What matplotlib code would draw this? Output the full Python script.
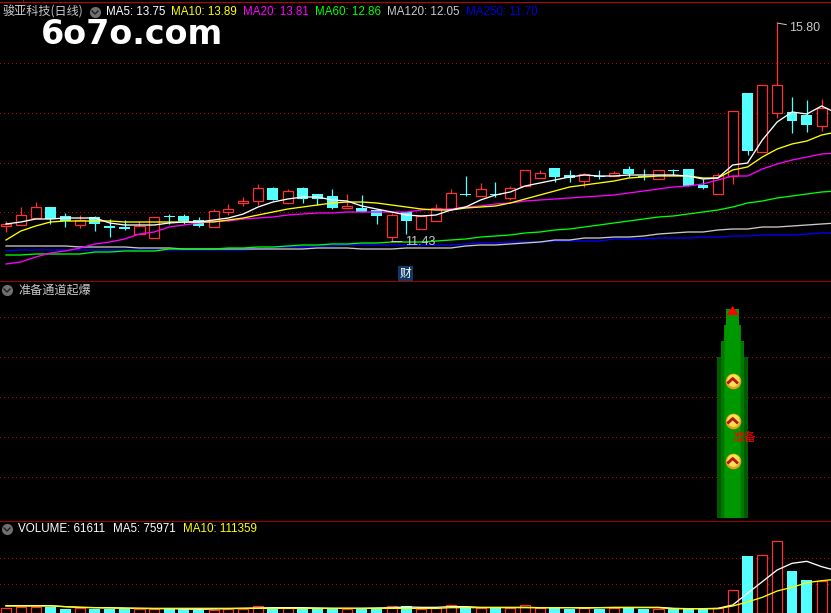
"""Daily candlestick screen with indicator and volume panels."""

import matplotlib

matplotlib.use("Agg")
import matplotlib.pyplot as plt
import numpy as np

highs = [11.84, 12.12, 12.22, 12.12, 12.00, 11.96, 11.94, 11.88, 11.86, 11.84, 11.92, 11.98, 11.98, 11.92, 12.08, 12.18, 12.32, 12.58, 12.52,
         12.48, 12.52, 12.38, 12.48, 12.38, 12.36, 12.06, 12.00, 12.02, 11.94, 12.18, 12.48, 12.74, 12.60, 12.62, 12.54, 12.86, 12.86, 12.90,
         12.86, 12.80, 12.86, 12.84, 12.94, 12.88, 12.86, 12.88, 12.88, 12.68, 12.80, 14.04, 14.40, 14.56, 15.80, 14.32, 14.26, 14.28, 14.16]
body_tops = [11.78, 11.96, 12.12, 12.12, 11.94, 11.86, 11.92, 11.74, 11.72, 11.74, 11.92, 11.94, 11.94, 11.86, 12.04, 12.08, 12.24, 12.50, 12.50,
             12.44, 12.50, 12.38, 12.34, 12.14, 12.10, 12.06, 11.96, 12.02, 11.94, 12.10, 12.40, 12.38, 12.48, 12.38, 12.50, 12.86, 12.80, 12.90,
             12.76, 12.78, 12.74, 12.80, 12.88, 12.74, 12.86, 12.86, 12.88, 12.56, 12.76, 14.04, 14.40, 14.56, 14.56, 14.02, 13.96, 14.10, 13.64]
body_bots = [11.74, 11.76, 11.90, 11.88, 11.84, 11.76, 11.78, 11.70, 11.68, 11.58, 11.50, 11.92, 11.84, 11.74, 11.72, 12.02, 12.20, 12.24, 12.26,
             12.20, 12.28, 12.28, 12.10, 12.10, 12.02, 11.94, 11.52, 11.84, 11.68, 11.84, 12.08, 12.36, 12.34, 12.36, 12.30, 12.54, 12.70, 12.72,
             12.70, 12.64, 12.72, 12.74, 12.78, 12.72, 12.68, 12.84, 12.54, 12.50, 12.38, 12.74, 13.24, 13.22, 14.00, 13.84, 13.76, 13.74, 13.54]
lows = [11.62, 11.76, 11.90, 11.78, 11.72, 11.70, 11.64, 11.52, 11.66, 11.58, 11.50, 11.78, 11.78, 11.72, 11.72, 11.96, 12.14, 12.16, 12.26,
        12.20, 12.20, 12.16, 12.08, 12.10, 12.02, 11.78, 11.43, 11.58, 11.68, 11.84, 12.08, 12.34, 12.34, 12.32, 12.26, 12.54, 12.70, 12.62,
        12.62, 12.52, 12.68, 12.74, 12.72, 12.66, 12.68, 12.76, 12.54, 12.48, 12.38, 12.58, 13.16, 13.22, 13.90, 13.60, 13.62, 13.64, 13.46]
is_up = [1, 1, 1, 0, 0, 1, 0, 0, 0, 1, 1, 0, 0, 0, 1, 1, 1, 1, 0,
         1, 0, 0, 0, 1, 0, 0, 1, 0, 1, 1, 1, 0, 1, 0, 1, 1, 1, 0,
         0, 1, 0, 1, 0, 0, 1, 0, 0, 0, 1, 1, 0, 1, 1, 0, 0, 1, 0]

ma5 = [11.78, 11.82, 11.88, 11.88, 11.90, 11.90, 11.90, 11.80, 11.76, 11.76, 11.76, 11.80, 11.82, 11.82, 11.86, 11.90, 11.98, 12.12, 12.22,
       12.28, 12.32, 12.32, 12.26, 12.24, 12.14, 12.08, 12.02, 11.96, 11.94, 11.96, 12.06, 12.12, 12.26, 12.36, 12.42, 12.54, 12.60, 12.66,
       12.72, 12.76, 12.74, 12.74, 12.76, 12.76, 12.76, 12.76, 12.74, 12.68, 12.70, 12.96, 13.00, 13.46, 13.82, 14.02, 13.98, 14.14, 14.00]
ma10 = [11.46, 11.64, 11.74, 11.82, 11.84, 11.84, 11.84, 11.84, 11.82, 11.82, 11.82, 11.82, 11.82, 11.82, 11.82, 11.86, 11.90, 11.96, 12.02,
        12.08, 12.12, 12.16, 12.20, 12.22, 12.22, 12.20, 12.16, 12.12, 12.08, 12.06, 12.06, 12.10, 12.12, 12.14, 12.20, 12.28, 12.36, 12.44,
        12.52, 12.56, 12.60, 12.64, 12.70, 12.72, 12.74, 12.74, 12.74, 12.70, 12.70, 12.86, 12.92, 13.12, 13.28, 13.38, 13.44, 13.56, 13.62]
ma20 = [10.98, 11.02, 11.12, 11.20, 11.24, 11.30, 11.38, 11.42, 11.48, 11.58, 11.62, 11.72, 11.76, 11.80, 11.84, 11.84, 11.88, 11.90, 11.92,
        11.96, 11.98, 12.00, 12.00, 12.02, 12.02, 12.02, 12.02, 12.02, 12.06, 12.08, 12.08, 12.12, 12.14, 12.18, 12.20, 12.24, 12.26, 12.28,
        12.30, 12.32, 12.34, 12.36, 12.40, 12.44, 12.48, 12.52, 12.54, 12.58, 12.66, 12.74, 12.74, 12.88, 12.98, 13.06, 13.12, 13.18, 13.20]
ma60 = [11.16, 11.16, 11.18, 11.18, 11.18, 11.18, 11.22, 11.22, 11.24, 11.24, 11.24, 11.28, 11.28, 11.28, 11.28, 11.30, 11.30, 11.32, 11.32,
        11.34, 11.36, 11.36, 11.38, 11.38, 11.40, 11.40, 11.42, 11.42, 11.42, 11.44, 11.46, 11.48, 11.52, 11.54, 11.56, 11.60, 11.62, 11.66,
        11.68, 11.72, 11.76, 11.80, 11.84, 11.88, 11.92, 11.94, 11.98, 12.02, 12.06, 12.12, 12.20, 12.24, 12.30, 12.34, 12.38, 12.42, 12.44]
ma120 = [11.34, 11.34, 11.34, 11.34, 11.34, 11.32, 11.32, 11.32, 11.32, 11.30, 11.30, 11.30, 11.28, 11.28, 11.28, 11.28, 11.28, 11.28, 11.28,
         11.28, 11.28, 11.30, 11.30, 11.30, 11.28, 11.28, 11.28, 11.30, 11.30, 11.30, 11.30, 11.34, 11.36, 11.36, 11.38, 11.40, 11.42, 11.46,
         11.46, 11.50, 11.50, 11.52, 11.52, 11.54, 11.58, 11.60, 11.62, 11.62, 11.66, 11.68, 11.68, 11.72, 11.72, 11.74, 11.76, 11.78, 11.80]
ma250 = [11.24, 11.26, 11.26, 11.26, 11.26, 11.26, 11.26, 11.26, 11.26, 11.26, 11.26, 11.26, 11.26, 11.26, 11.26, 11.26, 11.26, 11.28, 11.30,
         11.32, 11.32, 11.34, 11.34, 11.36, 11.36, 11.36, 11.36, 11.36, 11.36, 11.36, 11.36, 11.38, 11.40, 11.40, 11.42, 11.42, 11.42, 11.44,
         11.44, 11.44, 11.44, 11.48, 11.48, 11.48, 11.50, 11.50, 11.50, 11.52, 11.52, 11.54, 11.54, 11.56, 11.56, 11.56, 11.58, 11.60, 11.60]

volume = [11200, 14400, 15200, 13600, 9600, 12000, 9600, 9600, 10400, 10400, 10400, 10400, 10400, 8000, 8000, 9600, 10400, 16000, 10400,
          12000, 10400, 10400, 10400, 10400, 9600, 10400, 16000, 16000, 10400, 11200, 18400, 12800, 12800, 12800, 12800, 18400, 12800, 13600,
          9600, 12000, 10400, 11200, 11200, 10400, 10400, 9600, 9600, 9600, 12000, 54400, 136800, 138400, 172000, 100800, 79200, 76000, 61611]
vol_ma5 = [17600, 17600, 17600, 17600, 15200, 13600, 12800, 12800, 12000, 11200, 10400, 10400, 9600, 8800, 9600, 10400, 11200, 12000, 12800,
           12800, 12800, 12000, 11200, 11200, 11200, 12000, 12800, 14400, 13600, 13600, 15200, 15200, 13600, 13600, 13600, 13600, 12800, 12800,
           12800, 12000, 12800, 13600, 13600, 13600, 13600, 11200, 10400, 10400, 11200, 19200, 47200, 75200, 103200, 119200, 124000, 111200, 101600]
vol_ma10 = [16800, 16800, 16800, 16800, 15200, 13600, 12800, 12000, 11200, 11200, 11200, 11200, 11200, 11200, 11200, 11200, 11200, 11200, 11200,
            11200, 11200, 11200, 11200, 11200, 11200, 11200, 11200, 11200, 11200, 11200, 12800, 12800, 12800, 12800, 12800, 12800, 12800, 12800,
            12800, 12800, 12800, 12800, 12800, 12800, 12800, 10400, 10400, 10400, 10400, 16800, 26400, 37600, 52800, 61600, 72800, 77600, 80800]

# stepped tower in the signal panel, wide to narrow
tower_tops = [161, 177, 193, 209]
signal_coins = [137, 97, 57]
signal_day = 49

RED = "#ff3030"
CYAN = "#54ffff"
GRID = "#c00000"
GREY = "#c8c8c8"
CJK = ["Noto Sans CJK SC", "DejaVu Sans"]
LATIN = "Liberation Sans"
THIN = 0.72
EDGE = 0.9

W, H = 831, 613
STEP = 14.83
X0 = 6.0
days = np.arange(len(highs))
xlim = (-X0 / STEP, (W - X0) / STEP)


def make_axes(fig, top, bottom, ylim):
    ax = fig.add_axes([0, 1 - bottom / H, 1, (bottom - top) / H])
    ax.set_facecolor("black")
    ax.set_xlim(*xlim)
    ax.set_ylim(*ylim)
    ax.set_xticks([])
    ax.set_yticks([])
    for spine in ax.spines.values():
        spine.set_visible(False)
    return ax


def grid(ax, levels):
    for level in levels:
        ax.axhline(level, color=GRID, lw=THIN, ls=(0, (1, 3)), zorder=0.5, antialiased=False)


def candles_bar(ax, x, top, bot, up, width=0.68):
    up = np.asarray(up, dtype=bool)
    top = np.asarray(top, dtype=float)
    bot = np.asarray(bot, dtype=float)
    ax.bar(x[up], (top - bot)[up], bottom=bot[up], width=width, facecolor="black",
           edgecolor=RED, lw=EDGE, zorder=2)
    ax.bar(x[~up], (top - bot)[~up], bottom=bot[~up], width=width + 0.06, color=CYAN,
           lw=0, zorder=2)


fig = plt.figure(figsize=(W / 100, H / 100), dpi=100, facecolor="black")

# price panel
ax = make_axes(fig, 0, 281.5, (16.26 - 0.02 * 281.5, 16.26))
grid(ax, [16.26 - 0.02 * y for y in (63, 113, 163, 212)])
up_mask = np.asarray(is_up, dtype=bool)
ax.vlines(days[up_mask], np.asarray(lows)[up_mask], np.asarray(highs)[up_mask], color=RED, lw=EDGE, zorder=1.5)
ax.vlines(days[~up_mask], np.asarray(lows)[~up_mask], np.asarray(highs)[~up_mask], color=CYAN, lw=EDGE, zorder=1.5)
candles_bar(ax, days, body_tops, body_bots, is_up)
for series, color in [(ma250, "#0000ff"), (ma120, GREY), (ma60, "#00ff00"), (ma20, "#ff00ff"), (ma10, "#ffff00"), (ma5, "white")]:
    ax.plot(days, series, color=color, lw=0.95, zorder=3)

for day, price, label_text, dx, dy in [(52, 15.80, "15.80", 12, -5), (26, 11.43, "11.43", 13, 0)]:
    ax.annotate(label_text, xy=(day, price), xytext=(dx, dy), textcoords="offset pixels", color=GREY,
                fontsize=9, family=LATIN, va="center", ha="left", zorder=5,
                arrowprops=dict(arrowstyle="-", color=GREY, lw=THIN, shrinkA=0, shrinkB=0))

# signal panel
ax2 = make_axes(fig, 281.5, 521.5, (-3.5, 236.5))
grid(ax2, [201, 161, 121, 81, 41])
tower_px = [31, 23, 17, 13]
tower_colors = ["#005a00", "#007800", "#008a00", "#009800"]
for top_value, width, color in zip(tower_tops, tower_px, tower_colors):
    ax2.bar(signal_day, top_value, width=width / STEP, color=color, lw=0, zorder=2)
ax2.bar(signal_day, tower_tops[2], width=15 / STEP, color="#009800", lw=0, zorder=2.1)
ax2.fill([signal_day - 0.42, signal_day, signal_day + 0.42], [203, 212, 203], color="#ff0000", lw=0, zorder=4)
ax2.scatter([signal_day] * 3, signal_coins, s=125, color="#f0a020", lw=0, zorder=4)
ax2.scatter([signal_day] * 3, np.asarray(signal_coins) + 1.5, s=80, color="#ffe050", lw=0, zorder=4.1)
for level in signal_coins:
    ax2.plot([signal_day - 0.36, signal_day, signal_day + 0.36], [level - 2.5, level + 2.5, level - 2.5],
             color="#b01818", lw=2.0, zorder=5, solid_capstyle="butt")
ax2.text(signal_day, 81, "准备", color="#ff0000", fontsize=8.6, family=CJK, va="center", ha="left", zorder=6)

# volume panel
ax3 = make_axes(fig, 521.5, 613, (0, (613 - 521.5) * 2400))
grid(ax3, [(613 - 558) * 2400, (613 - 584) * 2400])
candles_bar(ax3, days, volume, [0] * len(volume), is_up)
ax3.plot(days, vol_ma5, color="white", lw=0.95, zorder=3)
ax3.plot(days, vol_ma10, color="#ffff00", lw=0.95, zorder=3)

# header texts and small icons, placed in figure pixels
top = fig.add_axes([0, 0, 1, 1], facecolor="none")
top.set_xlim(0, W)
top.set_ylim(H, 0)
top.axis("off")
top.plot([0, W], [2, 2], color="#c00000", lw=THIN)
top.plot([23, 23], [0, 2], color="#c00000", lw=THIN)
top.plot([0, W], [281, 281], color="#a00000", lw=THIN)
top.plot([0, W], [521, 521], color="#a00000", lw=THIN)


def icon(x, y):
    top.scatter([x], [y], s=64, color="#707070", lw=0, zorder=3)
    top.plot([x - 3, x, x + 3], [y - 1, y + 2, y - 1], color="#202020", lw=1.0, zorder=4)


def label(x, y, text, color, family=LATIN, size=8.4):
    top.text(x, y, text, color=color, fontsize=size, family=family, va="center", ha="left")


label(3, 12, "骏亚科技(日线)", GREY, CJK, 8.7)
icon(95, 12)
header = [(106, "MA5: 13.75", "white"), (171, "MA10: 13.89", "#ffff00"), (243, "MA20: 13.81", "#ff00ff"),
          (315, "MA60: 12.86", "#00ff00"), (387, "MA120: 12.05", GREY), (466, "MA250: 11.70", "#0000e0")]
for x, text, color in header:
    label(x, 12, text, color)
top.text(41, 35, "6o7o.com", color="white", fontsize=24, family="DejaVu Sans", fontweight="bold", va="center", ha="left")

icon(7, 290)
label(18, 290, "准备通道起爆", GREY, CJK, 8.7)
icon(7, 529)
label(18, 529, "VOLUME: 61611", "white")
label(113, 529, "MA5: 75971", "white")
label(183, 529, "MA10: 111359", "#ffff00")

top.text(405.5, 273.5, "财", color="white", fontsize=8.5, family=CJK, va="center", ha="center",
         bbox=dict(boxstyle="square,pad=0.12", facecolor="#103a66", edgecolor="none"))

fig.savefig("out.png", dpi=100, facecolor="black")
